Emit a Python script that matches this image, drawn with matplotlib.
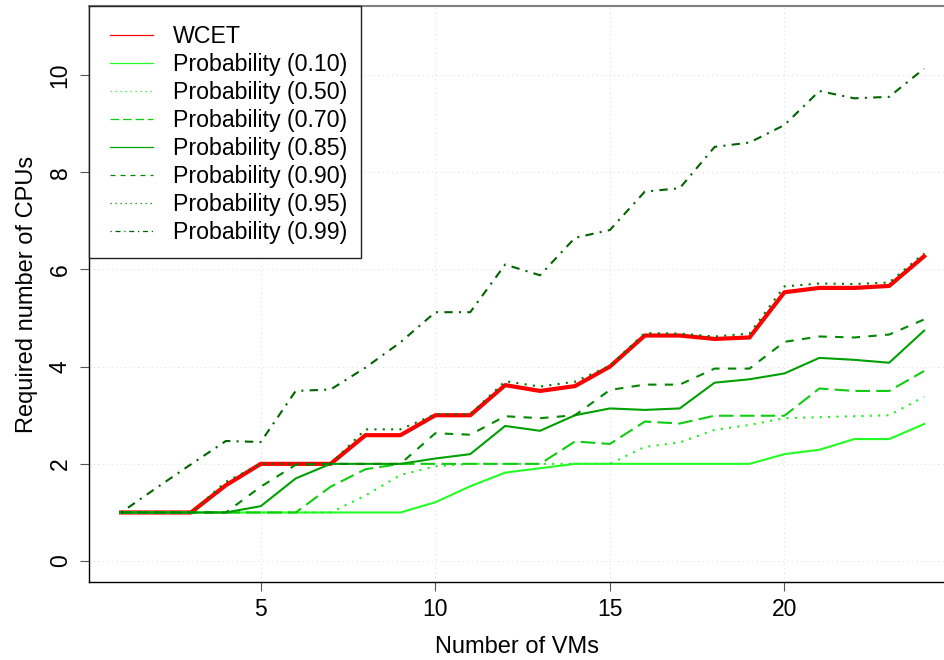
import numpy as np
import matplotlib.pyplot as plt
from matplotlib.lines import Line2D
from matplotlib.patches import Rectangle

plt.rcParams['font.family'] = ['Liberation Sans', 'DejaVu Sans']

# Required CPUs per number of VMs
vms = list(range(1, 25))
wcet = [1, 1, 1, 1.56, 2, 2, 2, 2.59, 2.59, 3, 3, 3.62, 3.5, 3.6, 4, 4.64,
        4.64, 4.57, 4.6, 5.53, 5.62, 5.62, 5.66, 6.27]
p10 = [1, 1, 1, 1, 1, 1, 1, 1, 1, 1.21, 1.54, 1.82, 1.91, 2, 2, 2, 2, 2, 2,
       2.2, 2.29, 2.51, 2.51, 2.82]
p50 = [1, 1, 1, 1, 1, 1, 1, 1.35, 1.77, 1.95, 2, 2, 2, 2, 2, 2.35, 2.44, 2.7,
       2.8, 2.94, 2.96, 2.98, 3.0, 3.38]
p70 = [1, 1, 1, 1, 1, 1, 1.53, 1.89, 2, 2, 2, 2, 2, 2.46, 2.41, 2.87, 2.83,
       2.99, 2.99, 2.99, 3.55, 3.5, 3.5, 3.91]
p85 = [1, 1, 1, 1, 1.13, 1.7, 2, 2, 2, 2.11, 2.2, 2.78, 2.68, 3.0, 3.14, 3.11,
       3.14, 3.67, 3.74, 3.86, 4.18, 4.14, 4.08, 4.74]
p90 = [1, 1, 1, 1, 1.53, 1.98, 2, 2, 2, 2.63, 2.6, 2.98, 2.94, 3.0, 3.52, 3.63,
       3.63, 3.96, 3.96, 4.51, 4.62, 4.6, 4.66, 4.97]
p95 = [1, 1, 1, 1.63, 2, 2, 2, 2.71, 2.71, 3.02, 3.02, 3.7, 3.59, 3.69, 4.02,
       4.69, 4.68, 4.62, 4.68, 5.65, 5.71, 5.7, 5.73, 6.33]
p99 = [1, 1.5, 1.99, 2.47, 2.45, 3.5, 3.53, 3.98, 4.5, 5.12, 5.12, 6.1, 5.88,
       6.65, 6.81, 7.6, 7.67, 8.52, 8.61, 8.97, 9.67, 9.52, 9.55, 10.13]

labels = ['WCET', 'Probability (0.10)', 'Probability (0.50)', 'Probability (0.70)',
          'Probability (0.85)', 'Probability (0.90)', 'Probability (0.95)',
          'Probability (0.99)']
series = [wcet, p10, p50, p70, p85, p90, p95, p99]
colors = ['#ff0000', '#22ff22', '#22ee22', '#11cc11', '#00a000', '#008800',
          '#007a00', '#006400']
styles = ['-', '-', (0, (1, 3)), (0, (7, 3)), '-', (0, (4, 4)), (0, (1, 3)),
          (0, (1, 3, 4, 3))]
widths = [3.0, 1.5, 1.5, 1.5, 1.5, 1.5, 1.5, 1.5]

fig = plt.figure(figsize=(9.45, 6.6), dpi=100)
ax = fig.add_axes([0.0942, 0.1182, 0.9058, 0.8728])

for y, c, ls, lw in zip(series, colors, styles, widths):
    ax.plot(vms, y, color=c, linestyle=ls, linewidth=lw)

ax.set_xlim(0.08, 24.6)
ax.set_ylim(-0.43, 11.42)
ax.set_xticks([5, 10, 15, 20])
ax.set_yticks([0, 2, 4, 6, 8, 10])
for v in [5, 10, 15, 20]:
    ax.axvline(v, color='#e2e2e2', linestyle=(0, (1, 3)), linewidth=0.8, zorder=0)
for v in [0, 2, 4, 6, 8, 10]:
    ax.axhline(v, color='#e2e2e2', linestyle=(0, (1, 3)), linewidth=0.8, zorder=0)

ax.tick_params(axis='both', labelsize=16.5, length=6.5, width=0.8,
               color='#555555')
ax.tick_params(axis='x', pad=5)
ax.tick_params(axis='y', pad=6)
for t in ax.get_yticklabels():
    t.set_rotation(90)
    t.set_va('center')
ax.spines['right'].set_visible(False)
ax.spines['top'].set_color('#808080')
ax.spines['top'].set_linewidth(1.5)
for s in ['left', 'bottom']:
    ax.spines[s].set_linewidth(1.0)

ax.set_xlabel('Number of VMs', fontsize=17, labelpad=11)
ax.set_ylabel('Required number of CPUs', fontsize=17, labelpad=8)

# legend box, drawn separately so its padding can be uneven
ax.add_patch(Rectangle((0.0, 0.5625), 0.3178, 0.4375, transform=ax.transAxes,
                       facecolor='white', edgecolor='#222222', linewidth=1.0,
                       zorder=4.5, clip_on=False))
handles = [Line2D([], [], color=c, linestyle=ls, linewidth=0.9)
           for c, ls in zip(colors, styles)]
leg = ax.legend(handles, labels, loc='upper left', bbox_to_anchor=(0.0, 1.0035),
                fontsize=16.7, frameon=False, borderaxespad=0,
                handlelength=1.85, handletextpad=0.86, labelspacing=0.215,
                borderpad=0.9)

plt.savefig('out.png', dpi=100)
